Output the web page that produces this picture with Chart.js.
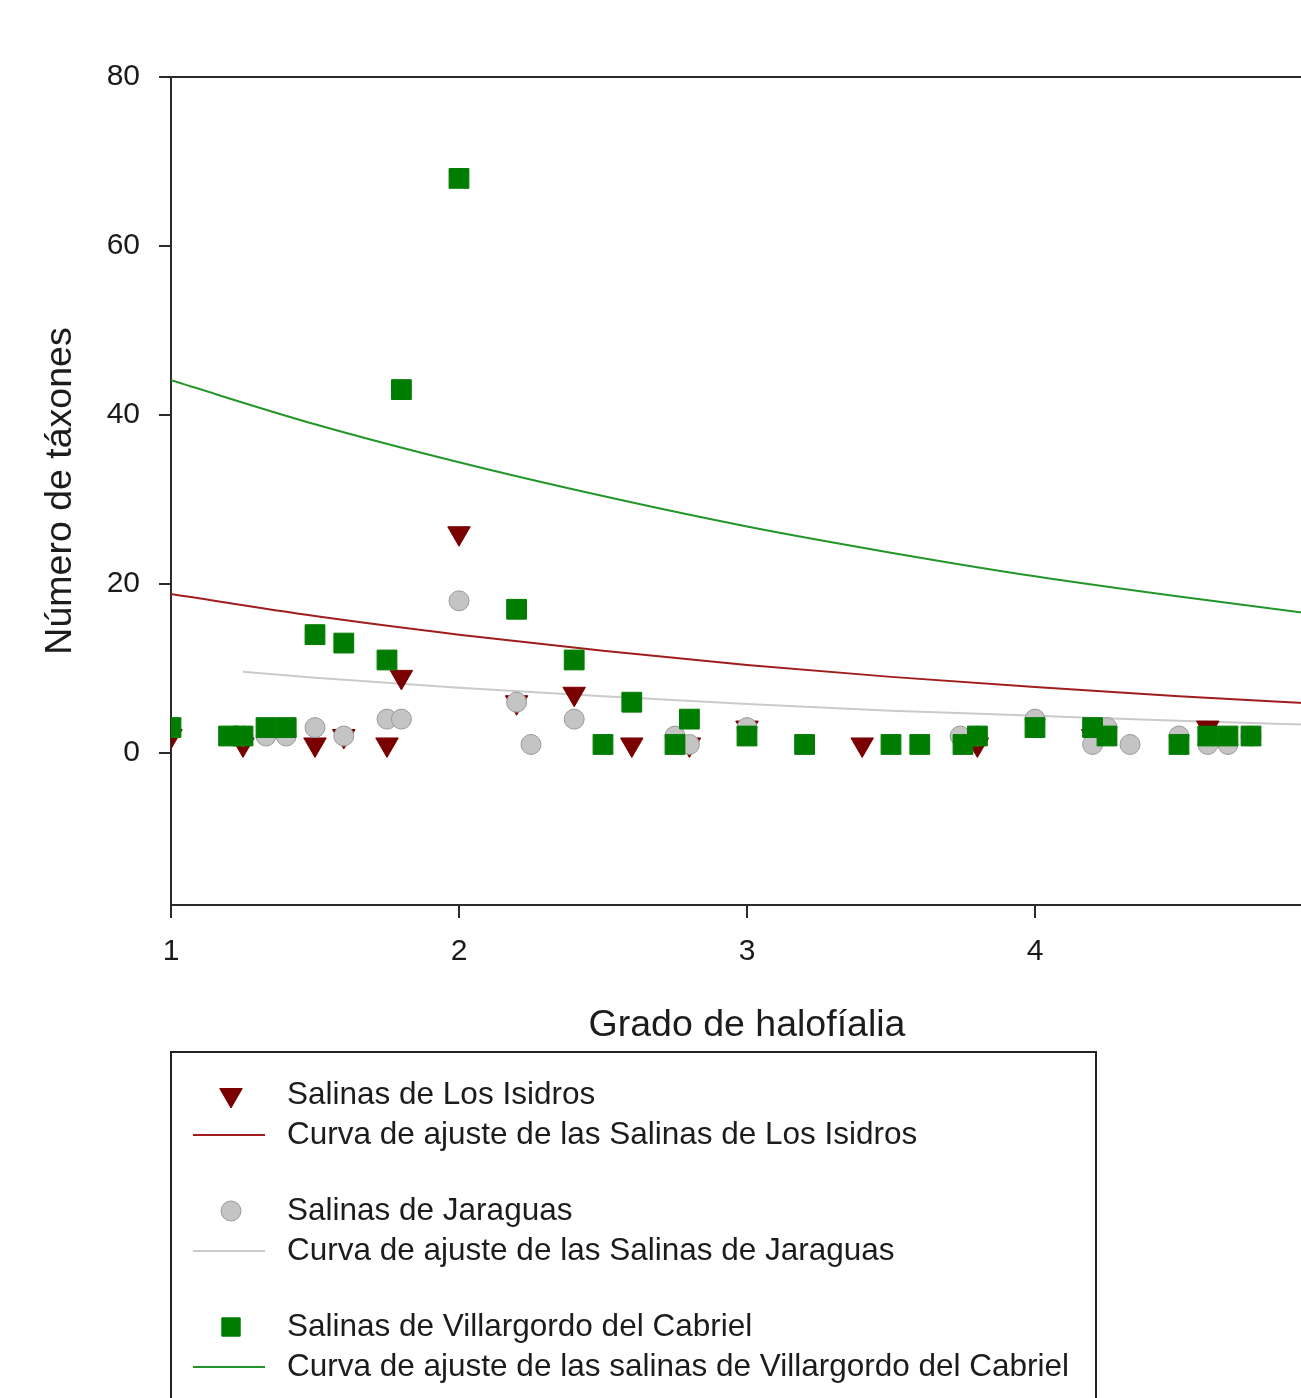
<!DOCTYPE html>
<html>
<head>
<meta charset="utf-8">
<script src="https://cdn.jsdelivr.net/npm/chart.js@4.4.1/dist/chart.umd.min.js"></script>
<style>
  html, body { margin: 0; padding: 0; background: #fff; overflow: hidden; }
  #wrap { width: 1301px; height: 1398px; overflow: hidden; position: relative; }
  canvas { display: block; }
</style>
</head>
<body>
<div id="wrap"><canvas id="c" width="1348" height="1398"></canvas></div>
<script>
// ---- Data ----
const xTicks = [1, 2, 3, 4, 5];
const yTicks = [0, 20, 40, 60, 80];

const isidrosX = [1.0, 1.25, 1.5, 1.6, 1.75, 1.8, 2.0, 2.2, 2.4, 2.6, 2.8, 3.0, 3.4, 3.8, 4.2, 4.6];
const isidrosY = [2, 1, 1, 2, 1, 9, 26, 6, 7, 1, 1, 3, 1, 1, 2, 3];

const jaraguasX = [1.25, 1.33, 1.4, 1.5, 1.6, 1.75, 1.8, 2.0, 2.2, 2.25, 2.4, 2.75, 2.8, 3.0, 3.74, 3.8, 4.0, 4.2, 4.25, 4.33, 4.5, 4.6, 4.67, 4.75];
const jaraguasY = [2, 2, 2, 3, 2, 4, 4, 18, 6, 1, 4, 2, 1, 3, 2, 2, 4, 1, 3, 1, 2, 1, 1, 2];

const villaX = [1.0, 1.2, 1.25, 1.33, 1.4, 1.5, 1.6, 1.75, 1.8, 2.0, 2.2, 2.4, 2.5, 2.6, 2.75, 2.8, 3.0, 3.2, 3.5, 3.6, 3.75, 3.8, 4.0, 4.2, 4.25, 4.5, 4.6, 4.67, 4.75];
const villaY = [3, 2, 2, 3, 3, 14, 13, 11, 43, 68, 17, 11, 1, 6, 1, 4, 2, 1, 1, 1, 1, 2, 3, 3, 2, 1, 2, 2, 2];

const curveX = [1, 1.5, 2, 2.5, 3, 3.5, 4, 4.5, 5];
const curveIsidros = [18.8, 16.2, 14.0, 12.1, 10.4, 9.0, 7.8, 6.7, 5.8];
const curveVilla = [44.1, 38.9, 34.4, 30.4, 26.8, 23.7, 20.9, 18.5, 16.3];
const curveJaraguasX = [1.25, 1.5, 2, 2.5, 3, 3.5, 4, 4.5, 5];
const curveJaraguas = [9.6, 8.9, 7.7, 6.7, 5.8, 5.0, 4.4, 3.8, 3.3];

const labels = {
  isidros: 'Salinas de Los Isidros',
  isidrosFit: 'Curva de ajuste de las Salinas de Los Isidros',
  jaraguas: 'Salinas de Jaraguas',
  jaraguasFit: 'Curva de ajuste de las Salinas de Jaraguas',
  villa: 'Salinas de Villargordo del Cabriel',
  villaFit: 'Curva de ajuste de las salinas de Villargordo del Cabriel'
};
const xTitle = 'Grado de halofíalia';
const yTitle = 'Número de táxones';

// ---- helpers ----
const pts = (xs, ys) => xs.map((x, i) => ({ x: x, y: ys[i] }));

const FONT = '"Liberation Sans", Arial, sans-serif';
const C_RED_PT = '#7a0000';
const C_RED_LN = '#a11d1d';
const C_GRAY_PT = '#c4c4c4';
const C_GRAY_BD = '#9a9a9a';
const C_GRAY_LN = '#cacaca';
const C_GREEN_PT = '#007d00';
const C_GREEN_LN = '#23962a';
const AXIS = '#2a2a2a';

const frameAndLegend = {
  id: 'frameAndLegend',
  afterDraw(chart) {
    const ctx = chart.ctx;
    const a = chart.chartArea;
    ctx.save();
    // top and right frame lines
    ctx.strokeStyle = AXIS;
    ctx.lineWidth = 2;
    ctx.beginPath();
    ctx.moveTo(a.left, a.top);
    ctx.lineTo(a.right, a.top);
    ctx.lineTo(a.right, a.bottom);
    ctx.stroke();

    // legend box
    const bx = 171, by = 1052, bw = 1096 - 171, bh = 400;
    ctx.lineWidth = 2;
    ctx.strokeStyle = '#222';
    ctx.strokeRect(bx, by, bw, bh);

    const ds = chart.data.datasets;
    const rows = [
      { d: ds[2], y: 1095, kind: 'pt' },
      { d: ds[3], y: 1135, kind: 'ln' },
      { d: ds[1], y: 1211, kind: 'pt' },
      { d: ds[4], y: 1251, kind: 'ln' },
      { d: ds[0], y: 1327, kind: 'pt' },
      { d: ds[5], y: 1367, kind: 'ln' }
    ];
    ctx.font = '31.5px ' + FONT;
    ctx.textBaseline = 'middle';
    ctx.textAlign = 'left';
    rows.forEach(r => {
      if (r.kind === 'pt') {
        ctx.fillStyle = r.d.backgroundColor;
        ctx.strokeStyle = r.d.borderColor;
        ctx.lineWidth = r.d.borderWidth;
        Chart.helpers.drawPoint(ctx, {
          pointStyle: r.d.pointStyle,
          rotation: r.d.pointRotation || 0,
          radius: r.d.legendRadius,
          borderWidth: r.d.borderWidth
        }, 231, r.y);
      } else {
        ctx.strokeStyle = r.d.borderColor;
        ctx.lineWidth = 2;
        ctx.beginPath();
        ctx.moveTo(193, r.y);
        ctx.lineTo(265, r.y);
        ctx.stroke();
      }
      ctx.fillStyle = '#1c1c1c';
      ctx.fillText(r.d.label, 287, r.y);
    });
    ctx.restore();
  }
};

new Chart(document.getElementById('c'), {
  type: 'scatter',
  data: {
    datasets: [
      {
        label: labels.villa, data: pts(villaX, villaY), order: 1,
        pointStyle: 'rect', pointRadius: 14, pointHoverRadius: 14, legendRadius: 13,
        backgroundColor: C_GREEN_PT, borderColor: C_GREEN_PT, borderWidth: 1
      },
      {
        label: labels.jaraguas, data: pts(jaraguasX, jaraguasY), order: 2,
        pointStyle: 'circle', pointRadius: 10, pointHoverRadius: 10, legendRadius: 10,
        backgroundColor: C_GRAY_PT, borderColor: C_GRAY_BD, borderWidth: 1
      },
      {
        label: labels.isidros, data: pts(isidrosX, isidrosY), order: 3,
        pointStyle: 'triangle', pointRotation: 180, pointRadius: 13, pointHoverRadius: 13, legendRadius: 13,
        backgroundColor: C_RED_PT, borderColor: C_RED_PT, borderWidth: 1
      },
      {
        type: 'line', label: labels.isidrosFit, data: pts(curveX, curveIsidros), order: 4,
        borderColor: C_RED_LN, borderWidth: 2, pointRadius: 0, fill: false,
        cubicInterpolationMode: 'monotone', showLine: true
      },
      {
        type: 'line', label: labels.jaraguasFit, data: pts(curveJaraguasX, curveJaraguas), order: 5,
        borderColor: C_GRAY_LN, borderWidth: 2, pointRadius: 0, fill: false,
        cubicInterpolationMode: 'monotone', showLine: true
      },
      {
        type: 'line', label: labels.villaFit, data: pts(curveX, curveVilla), order: 6,
        borderColor: C_GREEN_LN, borderWidth: 2, pointRadius: 0, fill: false,
        cubicInterpolationMode: 'monotone', showLine: true
      }
    ]
  },
  options: {
    responsive: false,
    animation: false,
    devicePixelRatio: 1,
    layout: { padding: { left: 0, top: 77, right: 25, bottom: 348 } },
    plugins: { legend: { display: false }, tooltip: { enabled: false } },
    scales: {
      x: {
        type: 'linear', min: 1, max: 5,
        afterBuildTicks: s => { s.ticks = xTicks.map(v => ({ value: v })); },
        afterFit: s => { s.height = 145; },
        grid: { display: true, drawOnChartArea: false, drawTicks: true, tickLength: 13, color: AXIS, lineWidth: 2 },
        border: { display: true, color: AXIS, width: 2 },
        ticks: { color: '#1a1a1a', font: { family: FONT, size: 30 }, padding: 16, maxRotation: 0 },
        title: { display: true, text: xTitle, color: '#1c1c1c', font: { family: FONT, size: 37.5 }, padding: { top: 0, bottom: 2 } }
      },
      y: {
        type: 'linear', min: -18, max: 80,
        afterBuildTicks: s => { s.ticks = yTicks.map(v => ({ value: v })); },
        afterFit: s => { s.width = 171; },
        grid: { display: true, drawOnChartArea: false, drawTicks: true, tickLength: 12, color: AXIS, lineWidth: 2 },
        border: { display: true, color: AXIS, width: 2 },
        ticks: { color: '#1a1a1a', font: { family: FONT, size: 30 }, padding: 19 },
        title: { display: true, text: yTitle, color: '#1c1c1c', font: { family: FONT, size: 37.5 }, padding: { top: 38, bottom: 0 } }
      }
    }
  },
  plugins: [frameAndLegend]
});
</script>
</body>
</html>
